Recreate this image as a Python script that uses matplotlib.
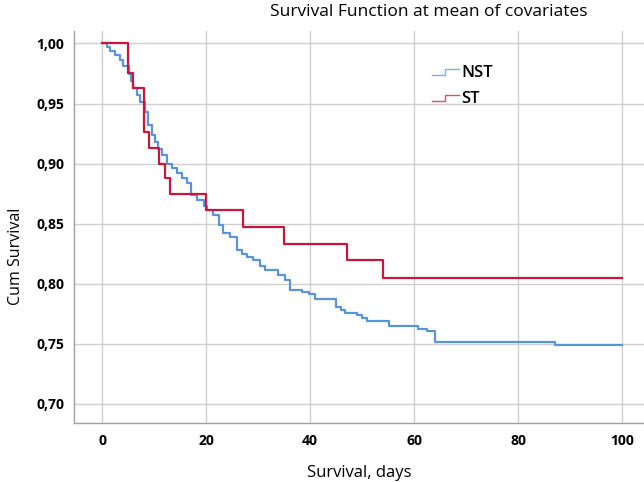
import numpy as np
import matplotlib
matplotlib.use("Agg")
import matplotlib.pyplot as plt
from matplotlib.legend_handler import HandlerBase
from matplotlib.lines import Line2D

plt.rcParams['font.family'] = ['Open Sans', 'DejaVu Sans']

# Dados (função de sobrevivência, degraus)
dias_nst = [0, 1.0, 1.5, 2.5, 3.5, 4.1, 5.1, 5.6, 6.0, 6.7, 7.3, 8.3, 8.9, 9.6,
            10.2, 10.8, 11.5, 12.4, 13.4, 14.4, 15.3, 16.4, 17.0, 18.2, 19.5,
            20.1, 21.4, 22.4, 23.3, 24.6, 25.9, 26.9, 27.8, 29.1, 30.4, 31.3,
            33.9, 35.2, 36.2, 38.4, 39.7, 41.0, 45.0, 46.0, 46.7, 49.0, 49.9,
            50.9, 55.1, 60.8, 62.4, 64.0, 87.0, 100]
surv_nst = [1.0, 0.997, 0.994, 0.990, 0.986, 0.981, 0.975, 0.969, 0.963, 0.957,
            0.951, 0.943, 0.932, 0.924, 0.918, 0.912, 0.907, 0.900, 0.896, 0.892,
            0.888, 0.884, 0.874, 0.870, 0.865, 0.861, 0.857, 0.849, 0.842, 0.839,
            0.828, 0.825, 0.822, 0.820, 0.815, 0.811, 0.807, 0.803, 0.795, 0.793,
            0.791, 0.787, 0.781, 0.7785, 0.776, 0.774, 0.7715, 0.769, 0.765,
            0.762, 0.7605, 0.7515, 0.749, 0.749]

dias_st = [0, 5, 6, 8, 9, 11, 12, 13, 20, 27, 35, 47, 54, 100]
surv_st = [1.0, 0.9755, 0.963, 0.926, 0.913, 0.900, 0.888, 0.875, 0.861,
           0.847, 0.833, 0.820, 0.805, 0.805]

cor_nst = '#5b93d6'
cor_st = '#c9163f'

yticks = [0.70, 0.75, 0.80, 0.85, 0.90, 0.95, 1.00]
xticks = [0, 20, 40, 60, 80, 100]


class DegrauHandler(HandlerBase):
    # ícone da legenda em forma de degrau
    def create_artists(self, legend, orig_handle, xdescent, ydescent,
                       width, height, fontsize, trans):
        xs = np.array([0, 0.5, 0.5, 1.0]) * width - xdescent
        ys = np.array([0.2, 0.2, 0.65, 0.65]) * height - ydescent
        linha = Line2D(xs, ys, color=orig_handle.get_color(), lw=1.0, alpha=0.75)
        linha.set_transform(trans)
        return [linha]


fig = plt.figure(figsize=(6.44, 4.82), dpi=100)
ax = fig.add_axes([0.115, 0.1224, 0.885, 0.8133])

l1, = ax.step(dias_nst, surv_nst, where='post', color=cor_nst, lw=1.6, label='NST')
l2, = ax.step(dias_st, surv_st, where='post', color=cor_st, lw=1.6, label='ST')

ax.set_xlim(-5.4, 104.2)
ax.set_ylim(0.684, 1.0104)
ax.set_xticks(xticks)
ax.set_yticks(yticks)
ax.set_yticklabels([f'{v:.2f}'.replace('.', ',') for v in yticks])
ax.tick_params(length=0, labelsize=10)
ax.tick_params(axis='y', pad=7)
ax.tick_params(axis='x', pad=8)
for lab in ax.get_xticklabels() + ax.get_yticklabels():
    lab.set_fontweight('bold')

ax.grid(True, color='#cfcfcf', lw=1.0)
ax.set_axisbelow(True)
for s in ['top', 'right']:
    ax.spines[s].set_visible(False)
for s in ['left', 'bottom']:
    ax.spines[s].set_color('#a0a0a0')
    ax.spines[s].set_linewidth(1.0)

ax.set_xlabel('Survival, days', fontsize=12, labelpad=12)
ax.set_ylabel('Cum Survival', fontsize=11.5)
ax.yaxis.set_label_coords(-0.088, 0.425)
fig.text(0.666, 0.975, 'Survival Function at mean of covariates',
         ha='center', va='center', fontsize=12.5)

ax.legend(handles=[l1, l2], handler_map={Line2D: DegrauHandler()},
          loc='upper left', bbox_to_anchor=(432 / 644, 1 - 65 / 482),
          bbox_transform=fig.transFigure, frameon=False, borderpad=0,
          borderaxespad=0, handlelength=1.6, handletextpad=0.15,
          labelspacing=0.6, prop={'size': 12, 'weight': 'semibold'})

fig.savefig('out.png', dpi=100)
